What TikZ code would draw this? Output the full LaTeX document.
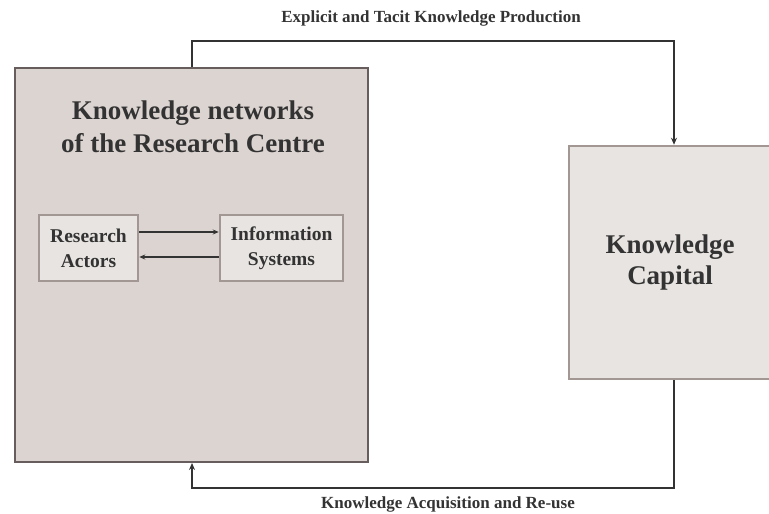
\documentclass[tikz,border=0pt]{standalone}
\usepackage{fontspec}
\setmainfont{Liberation Serif}
\usetikzlibrary{arrows.meta}
\definecolor{bigfill}{HTML}{DCD4D1}
\definecolor{bigdraw}{HTML}{675D5C}
\definecolor{smallfill}{HTML}{E8E4E1}
\definecolor{smalldraw}{HTML}{A39793}
\definecolor{ink}{HTML}{333333}
\tikzset{
  bigbox/.style={draw=bigdraw, fill=bigfill, line width=2pt, inner sep=0pt},
  smallbox/.style={draw=smalldraw, fill=smallfill, line width=2.5pt, inner sep=0pt, text=ink, align=center},
  conn/.style={draw=ink, line width=2pt},
  thinarrow/.style={draw=ink, line width=1.5pt, -{Stealth[length=6pt,width=5pt]}},
  lbl/.style={text=ink, font=\bfseries\fontsize{17}{20}\selectfont}
}
\begin{document}
\begin{tikzpicture}[x=1pt,y=-1pt]
\useasboundingbox (0,0) rectangle (769,514);
\node[bigbox, minimum width=353pt, minimum height=394pt] (net) at (191.5,265) {};
\node[text=ink, align=center, font=\bfseries\fontsize{27}{33}\selectfont] (title) at (193,127) {Knowledge networks\\of the Research Centre};
\node[smallbox, minimum width=99pt, minimum height=66pt, font=\bfseries\fontsize{19.5}{25}\selectfont] (ra) at (88.5,248) {Research\\Actors};
\node[smallbox, minimum width=123pt, minimum height=66pt, font=\bfseries\fontsize{19.5}{25}\selectfont] (is) at (281.5,248) {Information\\Systems};
\draw[thinarrow] ([yshift=16pt]ra.east) -- ([yshift=16pt]is.west);
\draw[thinarrow] ([yshift=-9pt]is.west) -- ([yshift=-9pt]ra.east);
\node[smallbox, minimum width=202pt, minimum height=233pt, font=\bfseries\fontsize{27}{31}\selectfont] (kc) at (670,262.5) {Knowledge\\Capital};
\coordinate (t1) at (192,41);
\coordinate (t2) at (674,41);
\coordinate (b2) at (674,488);
\coordinate (b1) at (192,488);
\draw[conn, -{Stealth[length=7pt,width=6pt]}] (net.north -| t1) -- (t1) -- (t2) -- (t2 |- kc.north);
\draw[conn, -{Stealth[length=7pt,width=6pt]}] (kc.south -| b2) -- (b2) -- (b1) -- (b1 |- net.south);
\node[lbl] (toplbl) at (431,18) {Explicit and Tacit Knowledge Production};
\node[lbl] (botlbl) at (448,504) {Knowledge Acquisition and Re-use};
\end{tikzpicture}
\end{document}
